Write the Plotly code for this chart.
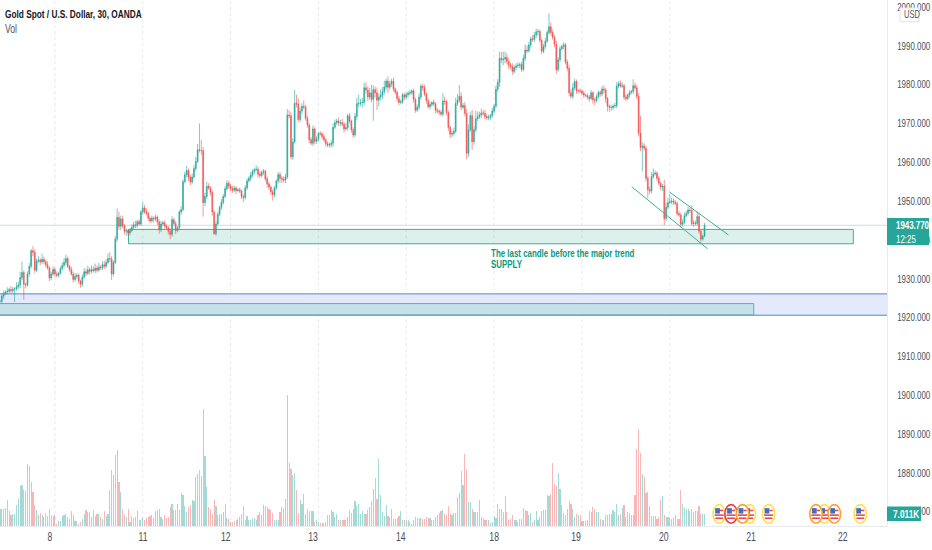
import plotly.graph_objects as go

# 30 min closes left to right
closes = [
    1924.2,1925.5,1926.2,1926.6,1926.8,1927.2,1926.9,1927.3,1927.4,1927.9,
    1928.4,1930.3,1931.6,1928.6,1928.4,1931.2,1933.2,1937.2,1936.8,1932.2,
    1934.6,1934.8,1934.3,1935.0,1934.4,1933.6,1932.8,1930.2,1931.2,1932.4,
    1931.2,1930.9,1931.4,1932.6,1933.4,1934.2,1935.2,1933.2,1932.4,1931.2,
    1929.8,1930.6,1930.9,1929.4,1928.6,1930.4,1931.8,1931.4,1932.3,1931.9,
    1932.4,1932.1,1932.7,1932.2,1933.0,1932.8,1933.6,1933.2,1934.2,1935.2,
    1935.1,1931.2,1934.2,1940.2,1945.8,1943.5,1945.4,1943.6,1942.2,1942.4,
    1941.8,1942.4,1943.2,1943.9,1943.7,1944.7,1944.1,1947.2,1948.2,1947.3,
    1946.8,1945.6,1944.9,1945.6,1945.4,1945.9,1944.6,1942.6,1944.1,1944.4,
    1943.6,1943.1,1942.2,1941.4,1945.2,1944.2,1942.4,1943.1,1947.2,1947.8,
    1955.0,1956.8,1957.9,1956.2,1954.9,1956.2,1958.4,1960.2,1963.2,1963.1,
    1963.0,1949.6,1951.2,1953.8,1953.4,1952.2,1947.2,1941.6,1944.1,1946.6,
    1948.4,1949.7,1951.2,1953.2,1954.6,1953.9,1953.2,1952.8,1953.4,1952.7,
    1952.9,1952.6,1951.2,1950.9,1953.4,1955.2,1955.9,1956.7,1957.6,1958.1,
    1958.2,1956.9,1956.6,1957.4,1957.7,1955.7,1954.4,1953.6,1952.4,1951.6,
    1953.4,1955.2,1956.8,1955.9,1955.6,1955.4,1956.2,1972.2,1972.0,1961.4,
    1965.2,1975.2,1975.0,1971.0,1973.2,1974.4,1974.2,1971.3,1969.6,1965.8,
    1964.9,1968.6,1965.4,1966.0,1967.4,1967.3,1966.6,1965.8,1964.8,1964.4,
    1964.5,1964.9,1969.0,1970.2,1970.6,1970.1,1970.2,1969.8,1968.6,1968.9,
    1972.0,1970.6,1968.4,1967.0,1971.8,1975.1,1975.2,1975.3,1975.4,1979.2,
    1978.6,1976.8,1977.9,1976.2,1978.7,1977.9,1976.0,1976.8,1977.3,1978.2,
    1979.4,1980.9,1979.3,1980.2,1980.9,1978.9,1978.0,1976.4,1975.4,1975.6,
    1977.4,1976.8,1977.4,1977.8,1977.9,1978.4,1976.2,1973.4,1974.2,1976.8,
    1979.6,1979.3,1977.6,1975.9,1974.3,1974.9,1975.4,1975.0,1973.4,1973.2,
    1972.9,1972.4,1975.8,1975.6,1972.8,1969.0,1967.2,1967.4,1968.0,1975.2,
    1976.0,1977.0,1974.2,1974.6,1972.6,1962.3,1968.4,1972.0,1965.3,1968.4,
    1971.2,1971.7,1972.2,1972.7,1972.6,1971.8,1971.4,1971.6,1972.0,1973.2,
    1974.4,1978.8,1980.6,1986.8,1986.4,1986.6,1987.0,1986.0,1985.0,1984.6,
    1983.4,1984.4,1984.8,1985.0,1985.2,1983.9,1986.8,1988.9,1988.7,1990.2,
    1991.8,1991.6,1992.8,1993.6,1993.7,1991.4,1988.6,1989.8,1991.2,1993.4,
    1994.9,1993.4,1992.2,1990.4,1983.8,1986.4,1989.2,1989.8,1990.3,1985.8,
    1984.2,1977.9,1977.0,1979.2,1980.8,1978.4,1978.4,1978.3,1977.8,1977.3,
    1977.2,1976.8,1976.4,1977.9,1976.1,1975.9,1976.9,1978.0,1977.6,1978.9,
    1978.6,1976.4,1974.4,1974.2,1974.1,1974.5,1974.6,1979.6,1980.3,1979.6,
    1979.7,1976.8,1976.4,1977.3,1978.0,1978.2,1979.7,1979.2,1977.0,1967.5,
    1963.8,1964.2,1963.6,1955.9,1952.9,1952.6,1956.3,1957.0,1957.2,1955.9,
    1954.6,1953.6,1953.9,1945.5,1948.4,1949.6,1949.8,1950.0,1949.7,1949.4,
    1946.8,1946.4,1944.0,1944.6,1946.2,1946.8,1947.7,1947.6,1944.2,1944.4,
    1944.2,1946.0,1942.2,1940.2,1941.0,1943.77,
]

wick_up = [
    0.3,0.6,0.8,0.4,1.0,0.5,0.9,0.6,0.4,1.2,
    0.8,1.5,2.8,0.6,0.4,0.7,0.9,0.5,1.2,0.8,
    0.6,1.0,0.5,1.4,0.7,0.5,0.9,0.4,0.6,0.8,
    0.5,0.7,0.4,0.6,0.9,1.1,1.0,0.5,0.4,0.7,
    0.6,0.8,0.5,0.4,0.3,0.7,0.9,0.8,1.1,0.6,
    1.0,0.8,1.2,0.7,1.1,0.6,0.9,1.0,0.8,1.3,
    1.6,0.7,0.5,0.8,2.3,1.5,0.9,0.7,0.5,0.6,
    0.4,0.6,0.8,0.7,1.0,0.5,0.6,0.4,1.6,0.8,
    0.9,0.5,0.4,0.7,0.5,0.6,0.4,0.7,0.8,0.5,
    0.6,0.4,0.5,0.7,0.9,0.5,0.6,0.4,0.5,0.9,
    0.6,0.7,1.2,0.5,0.6,0.9,0.8,1.2,1.5,6.8,
    2.7,0.9,1.0,1.2,0.8,0.5,0.6,0.4,0.8,0.7,
    0.5,0.9,0.6,0.7,0.8,0.6,0.5,0.7,0.6,0.4,
    0.5,0.6,0.4,0.5,0.7,0.6,0.5,0.8,0.6,0.5,
    1.0,0.6,0.8,0.5,0.6,0.4,0.7,0.5,0.4,0.6,
    0.5,0.4,0.7,0.6,0.5,0.8,0.9,1.5,1.2,0.9,
    1.0,3.4,2.2,1.4,1.0,0.8,1.6,0.6,0.7,0.5,
    0.6,0.9,0.5,0.7,0.4,0.6,0.5,0.7,0.4,0.5,
    0.6,0.8,1.0,0.8,0.6,0.9,0.7,1.0,0.6,1.2,
    0.5,0.7,0.4,0.6,0.9,1.5,2.2,1.0,1.2,1.3,
    1.4,0.9,1.2,2.1,1.1,0.8,1.3,1.0,1.5,1.2,
    1.6,0.6,1.2,0.8,0.6,0.9,0.4,0.5,0.7,0.6,
    0.5,0.4,0.6,0.5,0.7,0.4,0.6,0.5,0.7,1.0,
    0.6,0.5,0.7,0.4,0.5,0.6,0.4,0.8,0.5,0.6,
    0.4,0.6,2.0,1.1,0.5,0.6,0.4,0.7,0.9,1.4,
    1.6,2.9,1.0,0.7,0.9,1.1,1.4,0.9,1.5,1.0,
    2.0,1.4,0.8,1.1,0.7,0.9,0.6,0.7,0.5,0.8,
    0.6,0.9,0.8,1.7,1.6,1.9,1.5,1.1,0.8,0.7,
    0.9,0.6,0.7,0.8,0.5,0.7,0.9,1.4,1.2,0.8,
    0.6,0.9,0.7,0.8,0.6,0.5,0.4,0.7,0.9,0.7,
    3.5,1.1,0.8,0.6,0.9,0.7,0.8,0.5,0.6,0.4,
    0.7,0.8,0.9,1.2,0.7,0.5,0.4,0.6,0.5,0.7,
    0.4,0.5,0.6,0.7,0.4,0.5,0.6,0.4,0.5,0.7,
    0.9,0.6,0.4,0.5,0.6,0.4,0.7,1.1,0.6,0.8,
    0.9,0.5,0.7,0.4,0.6,0.5,1.7,0.9,0.8,0.8,
    4.5,1.0,0.7,0.6,0.5,0.9,1.2,1.4,0.7,0.5,
    0.6,0.4,0.5,1.6,1.2,1.3,2.0,0.9,0.7,0.6,
    0.5,0.7,0.6,0.8,0.9,0.7,0.8,0.6,1.2,0.7,
    0.6,1.4,1.0,0.5,0.4,0.6,
]

wick_dn = [
    0.4,0.5,0.7,0.4,0.6,0.5,0.6,0.7,3.3,0.5,
    0.6,0.8,0.7,4.0,0.9,0.5,0.7,0.6,1.0,0.8,
    0.5,0.6,0.8,0.4,0.7,0.6,0.5,0.8,0.6,0.4,
    0.7,0.5,0.6,0.4,0.5,0.6,0.7,0.5,0.6,0.4,
    0.8,0.5,0.6,0.7,0.9,0.6,0.4,0.7,0.5,0.8,
    0.6,0.5,0.7,0.6,0.4,0.5,0.6,0.7,0.5,0.4,
    0.8,1.5,0.6,0.4,0.7,0.9,1.0,0.6,0.8,1.1,
    0.7,0.6,0.4,0.5,0.7,0.6,0.4,0.5,0.8,0.6,
    0.5,0.7,0.6,0.4,0.9,0.5,0.8,1.0,0.6,0.4,
    0.7,0.5,0.8,1.2,0.6,0.5,0.9,0.4,0.6,0.7,
    0.5,0.4,0.7,1.0,0.8,0.6,0.5,0.7,0.4,0.6,
    1.2,3.6,0.9,0.7,0.5,0.8,1.0,0.3,0.6,0.4,
    0.5,0.7,0.6,0.4,0.5,0.8,0.6,0.7,0.5,0.9,
    0.4,0.6,0.7,1.1,0.5,0.6,0.4,0.7,0.5,0.6,
    0.4,0.8,0.6,0.5,0.7,0.6,0.9,0.7,0.8,1.5,
    0.6,0.5,0.7,1.2,0.9,0.6,0.8,0.5,0.7,0.6,
    0.8,0.4,0.9,0.7,0.6,0.8,0.5,0.6,0.7,0.9,
    0.5,0.7,0.8,0.6,0.5,0.4,0.7,0.6,0.8,0.5,
    0.6,0.7,0.9,0.5,0.6,0.7,0.8,0.6,0.9,0.5,
    0.7,0.6,0.8,0.7,0.5,0.9,1.0,0.8,1.2,0.7,
    0.9,1.1,0.7,0.8,5.5,1.2,2.5,1.6,0.9,1.0,
    0.8,0.7,1.4,0.6,0.8,0.7,0.6,0.8,0.7,0.5,
    0.6,0.8,0.5,0.7,0.6,0.5,0.9,0.7,0.5,0.6,
    0.7,0.9,0.6,0.8,0.5,0.7,0.6,0.5,0.8,0.6,
    0.7,0.5,0.6,0.8,0.7,0.9,1.0,0.8,0.6,0.5,
    0.7,0.6,0.8,0.5,0.7,1.5,0.9,0.6,2.1,0.8,
    0.7,0.6,0.5,0.8,0.6,0.7,0.5,0.6,0.7,0.5,
    0.6,0.4,0.7,1.2,0.9,1.4,1.1,0.8,1.0,0.7,
    0.9,0.6,0.7,0.5,0.8,0.6,0.5,0.7,0.6,0.4,
    0.7,0.5,0.6,0.8,0.9,0.6,0.7,0.5,0.6,0.4,
    0.5,0.8,0.6,0.7,1.0,0.5,0.6,0.4,0.7,0.6,
    0.8,0.9,0.5,0.7,0.6,0.8,0.5,0.4,0.6,0.7,
    0.5,0.6,0.8,0.4,1.0,1.2,0.6,0.5,0.7,0.6,
    0.9,1.1,1.3,1.2,0.8,0.6,0.5,0.7,0.6,0.4,
    0.5,0.8,0.6,0.4,0.7,0.5,0.6,0.5,0.7,0.8,
    0.9,6.2,0.7,0.8,2.2,0.9,0.6,0.5,0.4,0.7,
    0.6,0.8,1.0,1.7,0.6,0.5,0.4,0.6,0.7,0.5,
    0.6,0.4,0.8,0.5,0.6,0.4,0.5,0.7,0.6,0.8,
    0.5,0.6,0.7,0.9,0.4,0.3,
]

# volume in thousands
volumes = [
    10.4,10.4,10.4,10.6,15.4,9.0,6.4,7.4,7.4,12.4,
    16.4,23.8,24.4,21.4,21.0,37.0,35.8,26.4,20.4,12.4,
    9.8,6.4,8.0,6.4,5.4,8.0,5.8,10.4,6.4,6.0,
    6.4,1.4,3.0,3.0,5.8,6.8,7.4,5.4,4.4,9.0,
    6.4,3.2,3.0,1.4,2.4,4.4,7.0,9.8,8.2,8.2,
    5.4,9.4,5.8,7.0,7.4,5.4,4.4,9.0,5.8,7.0,
    21.4,33.8,30.4,42.4,45.4,26.4,20.2,10.4,6.4,5.4,
    10.0,2.4,5.8,5.0,5.4,8.8,3.8,3.8,5.4,3.4,
    5.0,5.2,6.2,6.4,5.0,9.0,9.4,10.4,5.4,4.4,
    6.4,5.0,5.4,11.4,13.0,9.4,9.4,13.4,9.4,19.8,
    18.4,11.8,8.4,11.4,12.4,15.4,15.0,29.4,31.0,33.8,
    29.8,70.4,41.8,23.4,11.4,10.4,7.4,15.8,11.8,6.4,
    7.0,7.0,8.4,13.4,5.0,4.4,2.4,2.4,3.0,3.4,
    4.4,5.4,7.4,11.8,3.4,5.8,3.4,3.4,4.4,5.0,
    3.4,6.4,8.4,6.4,12.4,12.0,11.4,10.4,9.8,7.8,
    3.4,3.4,3.4,8.4,11.4,11.0,16.0,78.4,37.8,34.4,
    30.8,32.0,21.8,7.8,15.4,13.0,19.0,7.4,10.4,9.0,
    9.0,9.0,2.4,3.4,2.4,2.0,1.8,1.8,2.4,6.4,
    6.4,9.8,8.4,5.4,7.4,3.4,3.4,3.4,3.4,3.4,
    5.4,9.8,7.8,10.4,14.8,11.8,13.0,7.0,9.0,7.4,
    7.4,9.8,11.4,15.0,22.0,29.0,16.4,40.4,18.4,8.4,
    5.8,12.4,5.8,5.4,10.4,4.2,4.4,4.8,5.8,8.8,
    3.4,3.4,3.4,3.4,2.4,1.4,3.4,5.4,5.0,5.0,
    5.0,4.4,4.4,5.4,5.0,5.0,3.8,3.8,5.4,6.4,
    8.0,8.8,9.8,7.4,6.8,11.8,7.0,6.4,7.8,7.8,
    17.4,19.8,33.0,24.4,43.4,34.4,14.4,14.4,10.4,8.4,
    8.4,8.4,15.4,5.4,5.0,3.4,3.4,3.4,1.8,2.4,
    5.8,5.0,13.0,10.4,10.4,8.4,17.8,8.4,3.8,4.4,
    6.4,3.4,3.4,2.4,4.4,4.4,10.6,9.8,9.0,6.4,
    7.8,2.4,3.4,8.8,3.4,5.4,8.8,9.4,9.8,18.4,
    17.8,19.4,37.8,25.0,23.8,32.0,22.0,12.4,7.8,6.4,
    10.4,15.0,13.0,10.4,5.4,7.4,6.4,6.8,3.0,3.0,
    3.0,3.4,9.0,8.4,11.4,10.4,8.4,8.4,4.4,3.4,
    3.4,6.4,6.4,7.0,7.0,9.8,8.4,13.0,6.4,7.4,
    11.0,12.4,5.4,8.4,8.0,6.4,6.4,18.4,46.4,58.4,
    43.8,31.4,29.4,20.0,20.4,11.8,5.8,5.8,5.8,4.4,
    5.4,15.4,17.8,6.4,5.4,5.4,5.0,4.4,5.0,6.4,
    4.4,4.4,21.4,13.0,11.0,10.4,10.4,9.0,10.4,8.4,
    9.0,9.0,11.8,7.0,7.0,7.011,
]

assert len(closes) == len(wick_up) == len(wick_dn) == len(volumes)

day_labels = ["8", "11", "12", "13", "14", "18", "19", "20", "21", "22"]
day_label_bars = [27.3, 78.1, 123.4, 171, 219, 270, 314.8, 362.7, 410.4, 460.5]
session_bars = [30, 78, 126, 174, 222, 270, 318, 366]
price_ticks = [1870, 1880, 1890, 1900, 1910, 1920, 1930, 1940, 1950, 1960, 1970, 1980, 1990, 2000]

last_price = 1943.77
last_volume = 7.011
supply_zone = [70.2, 466.3, 1939.0, 1942.7]
demand_band = [1920.6, 1926.1]
demand_zone = [411.9, 1920.7, 1923.6]
channel_low = [345.2, 1953.7, 386.7, 1937.7]
channel_high = [365.7, 1952.4, 398, 1941.3]

news_bars = [393, 399.5, 409.5, 405.8, 420, 450.4, 455.9, 445.9, 470.1]
news_rings = ["#ffe14d", "#f23645", "#ffe14d", "#ff9f2e", "#ffe14d", "#ffe14d", "#ff9f2e", "#ff9f2e", "#ffe14d"]
news_price = 1869.4

UP = "#26a69a"
DOWN = "#ef5350"
FONT = "Liberation Sans, sans-serif"

bars = list(range(len(closes)))
opens = [closes[0]] + closes[:-1]
highs = [max(o, c) + w for o, c, w in zip(opens, closes, wick_up)]
lows = [min(o, c) - w for o, c, w in zip(opens, closes, wick_dn)]
vol_colors = ["rgba(38,166,154,0.42)" if c >= o else "rgba(239,83,80,0.42)" for o, c in zip(opens, closes)]

fig = go.Figure()

fig.add_trace(go.Bar(x=bars, y=volumes, marker_color=vol_colors, marker_line_width=0,
                     width=0.62, yaxis="y", hoverinfo="skip"))

fig.add_trace(go.Candlestick(x=bars, open=opens, high=highs, low=lows, close=closes, yaxis="y2",
                             increasing=dict(line=dict(color=UP, width=0.6), fillcolor=UP),
                             decreasing=dict(line=dict(color=DOWN, width=0.6), fillcolor=DOWN),
                             whiskerwidth=0, hoverinfo="skip"))

for line in [channel_low, channel_high]:
    fig.add_trace(go.Scatter(x=[line[0], line[2]], y=[line[1], line[3]], mode="lines", yaxis="y2",
                             line=dict(color="#3fae9c", width=1), hoverinfo="skip"))

shapes = []
for b in session_bars:
    shapes.append(dict(type="line", xref="x", yref="paper", x0=b, x1=b, y0=0, y1=1, layer="below",
                       line=dict(color="#e6e9ef", width=1, dash="dot")))
shapes.append(dict(type="line", xref="paper", yref="y2", x0=0, x1=1, y0=last_price, y1=last_price, layer="below",
                   line=dict(color="#bfe5e0", width=1)))
shapes.append(dict(type="rect", xref="paper", yref="y2", x0=0, x1=1, y0=demand_band[0], y1=demand_band[1],
                   layer="below", fillcolor="#e4e9fb", line=dict(width=0)))
for level in demand_band:
    shapes.append(dict(type="line", xref="paper", yref="y2", x0=0, x1=1, y0=level, y1=level, layer="below",
                       line=dict(color="#4a8cca", width=1)))
shapes.append(dict(type="rect", xref="x", yref="y2", x0=-1, x1=demand_zone[0], y0=demand_zone[1], y1=demand_zone[2],
                   layer="below", fillcolor="#c5e2ea", line=dict(color="#6aa9b3", width=1)))
shapes.append(dict(type="rect", xref="x", yref="y2", x0=supply_zone[0], x1=supply_zone[1],
                   y0=supply_zone[2], y1=supply_zone[3], layer="below",
                   fillcolor="rgba(38,166,130,0.16)", line=dict(color="#3fae93", width=1)))

# calendar icons: tall coin with a small flag, offsets in bars and dollars
def coin_part(kind, bar, left, right, low, high, fill, line=None):
    return dict(type=kind, xref="x", yref="y2", x0=bar + left, x1=bar + right,
                y0=news_price + low, y1=news_price + high, layer="above", fillcolor=fill,
                line=dict(color=line, width=1.6) if line else dict(width=0))

for bar, ring in zip(news_bars, news_rings):
    shapes.append(coin_part("circle", bar, -3.4, 3.4, -2.4, 2.4, "white", ring))
    shapes.append(coin_part("rect", bar, -2.2, 0.4, 0.1, 1.5, "#3f6fb5"))
    shapes.append(coin_part("rect", bar, 0.4, 2.2, 0.7, 1.1, "#e8434f"))
    shapes.append(coin_part("rect", bar, -2.5, 2.5, -0.5, -0.1, "#e8434f"))
    shapes.append(coin_part("rect", bar, -2.1, 2.1, -1.3, -0.9, "#e8434f"))

# axis labels: price box, volume box, currency box
shapes.append(dict(type="rect", xref="paper", yref="paper", x0=1, x1=1.0474, y0=0.5342, y1=0.5855, layer="above",
                   fillcolor=UP, line=dict(width=0)))
shapes.append(dict(type="rect", xref="paper", yref="paper", x0=1, x1=1.0383, y0=0.0095, y1=0.037, layer="above",
                   fillcolor=UP, line=dict(width=0)))
shapes.append(dict(type="rect", xref="paper", yref="paper", x0=1.0147, x1=1.0361, y0=0.9587, y1=0.9848, layer="above",
                   fillcolor="white", line=dict(color="#e0e3eb", width=1)))

label_x = 1.0076
annotations = [
    dict(text="<b>Gold Spot / U.S. Dollar, 30, OANDA</b>", xref="paper", yref="paper", x=0.0035, y=0.9735,
         xanchor="left", yanchor="middle", showarrow=False, font=dict(family=FONT, size=11.5, color="#131722")),
    dict(text="Vol", xref="paper", yref="paper", x=0.0035, y=0.945, xanchor="left", yanchor="middle",
         showarrow=False, font=dict(family=FONT, size=12, color="#50535e")),
    dict(text="<b>The last candle before the major trend</b>", xref="x", yref="y2", x=267, y=1936.5,
         xanchor="left", yanchor="middle", showarrow=False, font=dict(family=FONT, size=11, color="#089981")),
    dict(text="<b>SUPPLY</b>", xref="x", yref="y2", x=267, y=1933.7,
         xanchor="left", yanchor="middle", showarrow=False, font=dict(family=FONT, size=11, color="#089981")),
    dict(text="<b>1943.770</b>", xref="paper", yref="y2", x=label_x, y=last_price, xanchor="left", yanchor="middle",
         showarrow=False, font=dict(family=FONT, size=11, color="white")),
    dict(text="12:25", xref="paper", yref="y2", x=label_x, y=1940.3, xanchor="left", yanchor="middle",
         showarrow=False, font=dict(family=FONT, size=11, color="white")),
    dict(text="<b>7.011K</b>", xref="paper", yref="y", x=1.005, y=last_volume, xanchor="left", yanchor="middle",
         showarrow=False, font=dict(family=FONT, size=11.5, color="white")),
    dict(text="USD", xref="paper", yref="paper", x=1.0165, y=0.9735, xanchor="left", yanchor="middle",
         showarrow=False, font=dict(family=FONT, size=10.5, color="#50535e")),
]

fig.update_layout(
    width=932, height=550, margin=dict(l=0, r=45, t=0, b=24, autoexpand=False),
    paper_bgcolor="white", plot_bgcolor="white", showlegend=False,
    bargap=0, dragmode=False, shapes=shapes, annotations=annotations,
    font=dict(family=FONT, size=11, color="#4a4d57"),
    xaxis=dict(range=[0, 484.7], rangeslider=dict(visible=False), showgrid=False, zeroline=False,
               tickmode="array", tickvals=day_label_bars, ticktext=day_labels,
               ticks="", showline=True, linecolor="#e9ebf0", linewidth=1, ticklen=0,
               tickfont=dict(family=FONT, size=12, color="#4a4d57")),
    yaxis=dict(range=[0, 315.6], visible=False, fixedrange=True),
    yaxis2=dict(range=[1866.3, 2001.8], overlaying="y", side="right", showgrid=False, zeroline=False,
                tickmode="array", tickvals=price_ticks, tickformat=".3f",
                ticks="outside", ticklen=7, tickcolor="white",
                showline=True, linecolor="#e9ebf0", linewidth=1,
                tickfont=dict(family=FONT, size=11, color="#4a4d57")),
)

# the reference is a squeezed screenshot, so its text runs narrow
squeeze = """
document.body.style.margin = '0';
document.querySelectorAll('.main-svg text').forEach(function (t) {
  var b = t.getBBox();
  var pivot = t.closest('.xtick') ? b.x + b.width / 2 : b.x;
  var old = t.getAttribute('transform') || '';
  t.setAttribute('transform', old + ' translate(' + pivot + ' 0) scale(0.72 1) translate(' + (-pivot) + ' 0)');
});
"""

fig.write_html("out.html", post_script=squeeze, config={"displayModeBar": False})
